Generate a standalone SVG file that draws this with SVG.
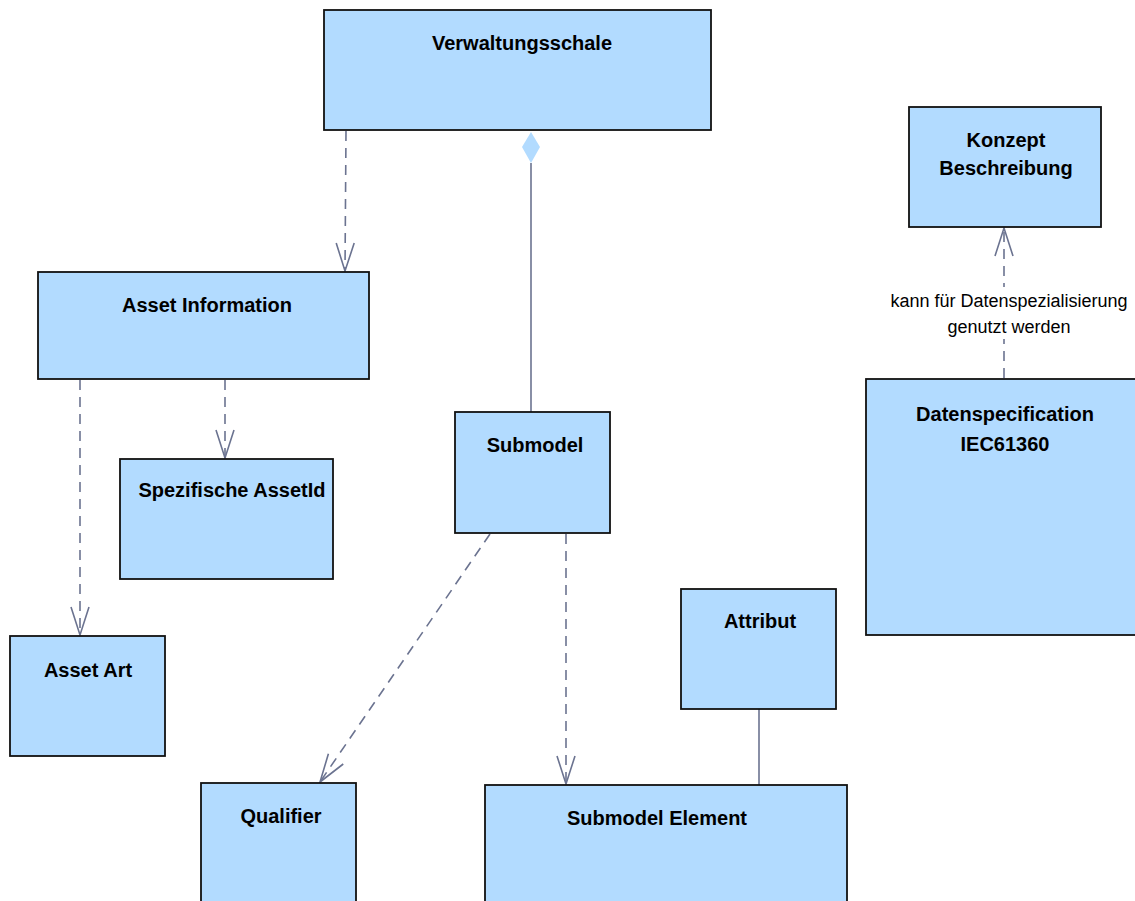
<svg xmlns="http://www.w3.org/2000/svg" width="1135" height="901" viewBox="0 0 1135 901">
  <style>
    .box { fill: #b2dbff; stroke: #111; stroke-width: 1.8; }
    .title { font-family: "Liberation Sans", Arial, sans-serif; font-weight: bold; font-size: 20px; fill: #000; text-anchor: middle; }
    .dep { fill: none; stroke: #6b7390; stroke-width: 1.6; stroke-dasharray: 10 7; }
    .solid { fill: none; stroke: #6b7390; stroke-width: 1.6; }
    .lbl { font-family: "Liberation Sans", Arial, sans-serif; font-size: 18px; fill: #000; text-anchor: middle; }
  </style>
  <defs>
    <marker id="open" markerUnits="userSpaceOnUse" markerWidth="32" markerHeight="22" viewBox="0 0 32 22" refX="29" refY="11" orient="auto">
      <path d="M1,2 L29,11 L1,20" fill="none" stroke="#6b7390" stroke-width="1.6"/>
    </marker>
  </defs>
  <rect width="1135" height="901" fill="#fff"/>

  <!-- connectors -->
  <g id="connectors">
    <path class="dep" d="M346,131 L345,271" marker-end="url(#open)"/>
    <polygon points="531,132 540,147 531,163 522,147" fill="#b2dbff"/>
    <path class="solid" d="M531,163 L531,412"/>
    <path class="dep" d="M225,380 L225,458" marker-end="url(#open)"/>
    <path class="dep" d="M80,380 L80,635" marker-end="url(#open)"/>
    <path class="dep" d="M490,534 L320,782" marker-end="url(#open)"/>
    <path class="dep" d="M566,534 L566,784" marker-end="url(#open)"/>
    <path class="solid" d="M759,709 L759,785"/>
    <path class="dep" d="M1004,378 L1004,228" marker-end="url(#open)"/>
    <rect x="887" y="287" width="246" height="52" fill="#fff"/>
    <text class="lbl" x="1009" y="307">kann für Datenspezialisierung</text>
    <text class="lbl" x="1009" y="333">genutzt werden</text>
  </g>

  <!-- nodes -->
  <g id="verwaltungsschale">
    <rect class="box" x="324" y="10" width="387" height="120"/>
    <text class="title" x="522" y="50">Verwaltungsschale</text>
  </g>
  <g id="konzept-beschreibung">
    <rect class="box" x="909" y="107" width="192" height="120"/>
    <text class="title" x="1006" y="147">Konzept</text>
    <text class="title" x="1006" y="175">Beschreibung</text>
  </g>
  <g id="asset-information">
    <rect class="box" x="38" y="272" width="331" height="107"/>
    <text class="title" x="207" y="312">Asset Information</text>
  </g>
  <g id="spezifische-assetid">
    <rect class="box" x="120" y="459" width="213" height="120"/>
    <text class="title" x="232" y="497">Spezifische AssetId</text>
  </g>
  <g id="submodel">
    <rect class="box" x="455" y="412" width="155" height="121"/>
    <text class="title" x="535" y="452">Submodel</text>
  </g>
  <g id="asset-art">
    <rect class="box" x="10" y="636" width="155" height="120"/>
    <text class="title" x="88" y="677">Asset Art</text>
  </g>
  <g id="attribut">
    <rect class="box" x="681" y="589" width="155" height="120"/>
    <text class="title" x="760" y="628">Attribut</text>
  </g>
  <g id="datenspecification">
    <rect class="box" x="866" y="379" width="272" height="256"/>
    <text class="title" x="1005" y="421">Datenspecification</text>
    <text class="title" x="1005" y="451">IEC61360</text>
  </g>
  <g id="qualifier">
    <rect class="box" x="201" y="783" width="155" height="125"/>
    <text class="title" x="281" y="823">Qualifier</text>
  </g>
  <g id="submodel-element">
    <rect class="box" x="485" y="785" width="362" height="125"/>
    <text class="title" x="657" y="825">Submodel Element</text>
  </g>
</svg>
